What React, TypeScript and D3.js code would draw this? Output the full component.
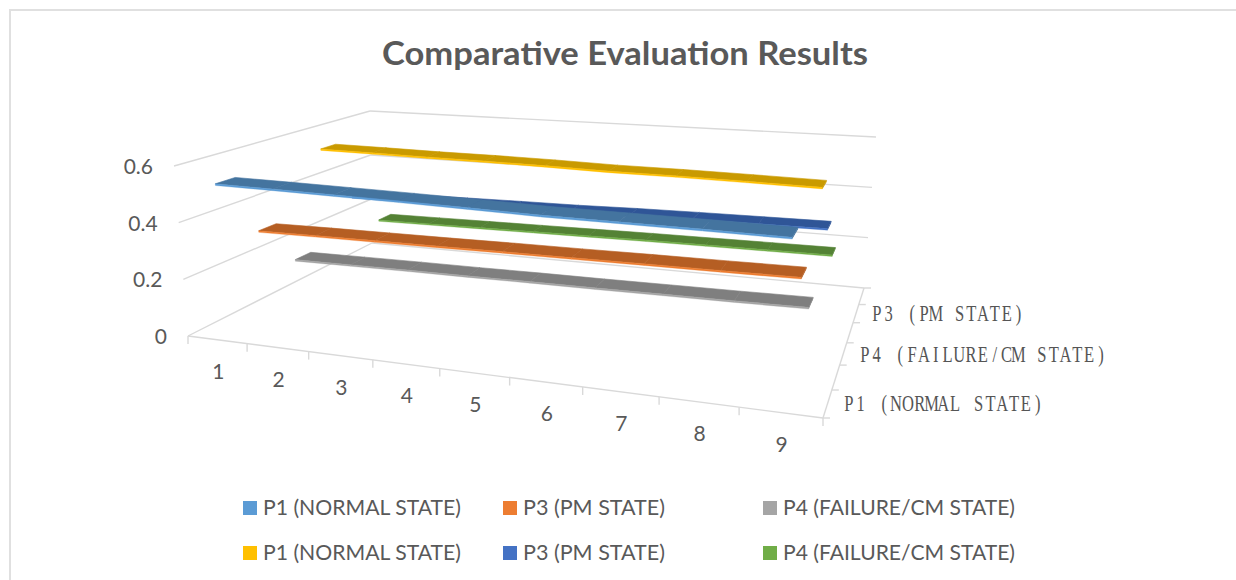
import React from "react";
import * as d3 from "d3";

const categories = ["1", "2", "3", "4", "5", "6", "7", "8", "9"];
const valueTicks = [0, 0.2, 0.4, 0.6];
const depthLabels = ["P1 (NORMAL STATE)", "P4 (FAILURE/CM STATE)", "P3 (PM STATE)"];
const seriesNames = ["P1 (NORMAL STATE)", "P3 (PM STATE)", "P4 (FAILURE/CM STATE)", "P1 (NORMAL STATE)", "P3 (PM STATE)", "P4 (FAILURE/CM STATE)"];
const s1 = [0.535, 0.535, 0.534, 0.533, 0.531, 0.528, 0.529, 0.53, 0.53];
const s2 = [0.315, 0.318, 0.32, 0.322, 0.325, 0.327, 0.33, 0.332, 0.335];
const s3 = [0.15, 0.152, 0.154, 0.155, 0.157, 0.158, 0.16, 0.162, 0.165];
const s4 = [0.54, 0.539, 0.537, 0.537, 0.535, 0.531, 0.531, 0.529, 0.526];
const s5 = [0.3, 0.302, 0.305, 0.308, 0.31, 0.315, 0.318, 0.32, 0.322];
const s6 = [0.152, 0.154, 0.156, 0.158, 0.16, 0.162, 0.163, 0.164, 0.165];
const seriesValues = [s1, s2, s3, s4, s5, s6];
const brightColors = ["#5b9bd5", "#ed7d31", "#a5a5a5", "#ffc000", "#4472c4", "#70ad47"];
const topColors = ["#44749f", "#b55e23", "#7f7f7f", "#c99a00", "#2f5597", "#548235"];

type P = [number, number];
const yDom = [0, 0.6];
const cornerScale = (a: P, b: P) => {
  const sx = d3.scaleLinear().domain(yDom).range([a[0], b[0]]);
  const sy = d3.scaleLinear().domain(yDom).range([a[1], b[1]]);
  return (v: number): P => [sx(v), sy(v)];
};
const cFL = cornerScale([188, 336], [174, 166]);
const cFR = cornerScale([823, 418], [836, 224]);
const cBL = cornerScale([372, 243], [370, 111]);
const cBR = cornerScale([864, 288], [876, 137]);

// projective map of the unit square onto a quad
function quad(u: number, t: number, p0: P, p1: P, p2: P, p3: P): P {
  const dx1 = p1[0] - p2[0], dx2 = p3[0] - p2[0], sx = p0[0] - p1[0] + p2[0] - p3[0];
  const dy1 = p1[1] - p2[1], dy2 = p3[1] - p2[1], sy = p0[1] - p1[1] + p2[1] - p3[1];
  const den = dx1 * dy2 - dx2 * dy1;
  const g = (sx * dy2 - dx2 * sy) / den;
  const h = (dx1 * sy - sx * dy1) / den;
  const a = p1[0] - p0[0] + g * p1[0], b = p3[0] - p0[0] + h * p3[0];
  const d = p1[1] - p0[1] + g * p1[1], e = p3[1] - p0[1] + h * p3[1];
  const w = g * u + h * t + 1;
  return [(a * u + b * t + p0[0]) / w, (d * u + e * t + p0[1]) / w];
}
const xScale = d3.scaleLinear().domain([0, categories.length]).range([0, 1]);
const zScale = d3.scaleLinear().domain([0, seriesValues.length]).range([0, 1]);
const project = (x: number, v: number, z: number): P =>
  quad(xScale(x), zScale(z), cFL(v), cFR(v), cBR(v), cBL(v));

const path = d3.line<P>().x((d) => d[0]).y((d) => d[1]);
const closed = (pts: P[]) => (path(pts) as string) + "Z";
const grid = "#d9d9d9";
const txt = "#595959";
const sans = "Lato, Carlito, sans-serif";
const ribbonHalf = 0.25;
const ribbonDrop = 0.006;
const centre = 0.53;

const Ribbon = ({ i }: { i: number }) => {
  const vals = seriesValues[i];
  const z0 = i + 0.5 - ribbonHalf, z1 = i + 0.5 + ribbonHalf;
  const n = vals.length;
  const top: string[] = [];
  const front: string[] = [];
  vals.slice(0, n - 1).forEach((v, k) => {
    const w = vals[k + 1];
    const a = k + centre, b = k + 1 + centre;
    top.push(closed([project(a, v, z0), project(b, w, z0), project(b, w, z1), project(a, v, z1)]));
    front.push(closed([project(a, v, z0), project(b, w, z0), project(b, w - ribbonDrop, z0), project(a, v - ribbonDrop, z0)]));
  });
  const last = vals[n - 1];
  const e = n - 1 + centre;
  const cap = closed([project(e, last, z0), project(e, last, z1), project(e, last - ribbonDrop, z1), project(e, last - ribbonDrop, z0)]);
  return (
    <g>
      {top.map((d, k) => <path key={k} d={d} fill={topColors[i]} stroke={topColors[i]} strokeWidth={0.6} />)}
      {front.map((d, k) => <path key={k} d={d} fill={brightColors[i]} stroke={brightColors[i]} strokeWidth={0.3} />)}
      <path d={cap} fill={topColors[i]} />
    </g>
  );
};

const Line = ({ a, b }: { a: P; b: P }) => (
  <line x1={a[0]} y1={a[1]} x2={b[0]} y2={b[1]} stroke={grid} strokeWidth={1.4} />
);

const depthLabelPos: P[] = [[843, 411], [859, 362], [871, 321]];
const depthAdvance = 11.8;
const depthSquash = 0.72;
const legendCols = [243, 503, 763];
const legendRows = [508, 553];
const legendWidths = [198, 142, 232];
const depthOrder = [5, 4, 3, 2, 1, 0];

export default function App() {
  return (
    <svg width={1236} height={580} style={{ position: "absolute", left: 0, top: 0, background: "#fff" }}>
      <path d="M10 580V10H1236" fill="none" stroke="#e0e0e0" strokeWidth={2} />
      <text x={625} y={65} textAnchor="middle" fontFamily={sans} fontWeight={700} fontSize={32} fill={txt} textLength={486} lengthAdjust="spacingAndGlyphs">Comparative Evaluation Results</text>

      {valueTicks.map((v) => (
        <g key={v}>
          <Line a={project(0, v, 0)} b={project(0, v, 6)} />
          <Line a={project(0, v, 6)} b={project(9, v, 6)} />
          <text x={cFL(v)[0] - 21} y={cFL(v)[1] + 8} textAnchor="end" fontFamily={sans} fontSize={21} fill={txt}>{String(v)}</text>
        </g>
      ))}
      <Line a={project(0, 0, 0)} b={project(9, 0, 0)} />
      <Line a={project(9, 0, 0)} b={project(9, 0, 6)} />
      {d3.range(0, 10).map((k) => {
        const p = project(k, 0, 0);
        return <Line key={k} a={p} b={[p[0], p[1] + 8]} />;
      })}
      {d3.range(0, 7).map((k) => {
        const p = project(9, 0, k);
        return <Line key={k} a={p} b={[p[0] + 7, p[1]]} />;
      })}

      {depthOrder.map((i) => <Ribbon key={i} i={i} />)}

      {categories.map((c, k) => {
        const p = project(k + 0.5, 0, 0);
        return <text key={c} x={p[0] + 1} y={p[1] + 39} textAnchor="middle" fontFamily={sans} fontSize={21} fill={txt}>{c}</text>;
      })}
      {depthLabels.map((l, k) => (
        <text key={l} transform={`translate(${depthLabelPos[k][0]},${depthLabelPos[k][1]}) scale(${depthSquash},1)`}
          x={l.split("").map((_, j) => ((j + 0.5) * depthAdvance) / depthSquash).join(" ")} y={0}
          textAnchor="middle" fontFamily="'Liberation Serif', serif" fontSize={23} fill="#555555">{l}</text>
      ))}

      {seriesNames.map((s, i) => {
        const x = legendCols[i % 3];
        const y = legendRows[Math.floor(i / 3)];
        return (
          <g key={i}>
            <rect x={x} y={y - 7} width={14} height={14} fill={brightColors[i]} />
            <text x={x + 20} y={y + 7} fontFamily={sans} fontSize={21} fill={txt} textLength={legendWidths[i % 3]} lengthAdjust="spacingAndGlyphs">{s}</text>
          </g>
        );
      })}
    </svg>
  );
}
